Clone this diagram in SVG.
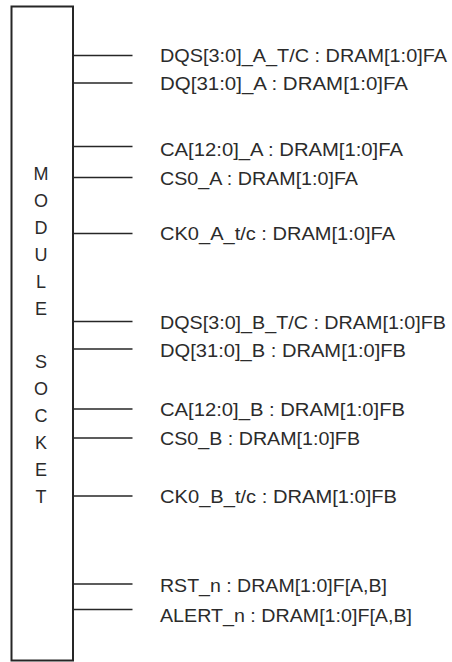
<svg xmlns="http://www.w3.org/2000/svg" width="452" height="662" viewBox="0 0 452 662">
<style>
.box{fill:#fff;stroke:#262626;stroke-width:2}
.ln{stroke:#262626;stroke-width:1.6;fill:none}
.lbl{font-family:"Liberation Sans",Arial,sans-serif;font-size:19px;fill:#2b2b2b}
.sock{font-family:"Liberation Sans",Arial,sans-serif;font-size:18px;fill:#2b2b2b;text-anchor:middle}
</style>
<rect width="452" height="662" fill="#fff"/>
<g id="socket">
<rect class="box" x="11.5" y="6.5" width="61.5" height="654"/>
<text class="sock" x="41"><tspan x="41" y="180">M</tspan><tspan x="41" y="207">O</tspan><tspan x="41" y="234">D</tspan><tspan x="41" y="261">U</tspan><tspan x="41" y="288">L</tspan><tspan x="41" y="315">E</tspan><tspan x="41" y="368">S</tspan><tspan x="41" y="395">O</tspan><tspan x="41" y="422">C</tspan><tspan x="41" y="449">K</tspan><tspan x="41" y="476">E</tspan><tspan x="41" y="503">T</tspan></text>
</g>
<g id="connectors">
<line class="ln" x1="73" y1="55.5" x2="132.5" y2="55.5"/>
<line class="ln" x1="73" y1="83" x2="132.5" y2="83"/>
<line class="ln" x1="73" y1="146.5" x2="132.5" y2="146.5"/>
<line class="ln" x1="73" y1="177.5" x2="132.5" y2="177.5"/>
<line class="ln" x1="73" y1="233.5" x2="132.5" y2="233.5"/>
<line class="ln" x1="73" y1="321.5" x2="132.5" y2="321.5"/>
<line class="ln" x1="73" y1="349" x2="132.5" y2="349"/>
<line class="ln" x1="73" y1="409" x2="132.5" y2="409"/>
<line class="ln" x1="73" y1="438" x2="132.5" y2="438"/>
<line class="ln" x1="73" y1="496" x2="132.5" y2="496"/>
<line class="ln" x1="73" y1="584" x2="132.5" y2="584"/>
<line class="ln" x1="73" y1="609.5" x2="132.5" y2="609.5"/>
</g>
<g id="labels">
<text id="dqs-a" class="lbl" x="160" y="62" textLength="287" lengthAdjust="spacingAndGlyphs">DQS[3:0]_A_T/C : DRAM[1:0]FA</text>
<text id="dq-a" class="lbl" x="160" y="90" textLength="248" lengthAdjust="spacingAndGlyphs">DQ[31:0]_A : DRAM[1:0]FA</text>
<text id="ca-a" class="lbl" x="160" y="156" textLength="243" lengthAdjust="spacingAndGlyphs">CA[12:0]_A : DRAM[1:0]FA</text>
<text id="cs0-a" class="lbl" x="160" y="185" textLength="198" lengthAdjust="spacingAndGlyphs">CS0_A : DRAM[1:0]FA</text>
<text id="ck0-a" class="lbl" x="160" y="240" textLength="235" lengthAdjust="spacingAndGlyphs">CK0_A_t/c : DRAM[1:0]FA</text>
<text id="dqs-b" class="lbl" x="160" y="329" textLength="286" lengthAdjust="spacingAndGlyphs">DQS[3:0]_B_T/C : DRAM[1:0]FB</text>
<text id="dq-b" class="lbl" x="160" y="357" textLength="246" lengthAdjust="spacingAndGlyphs">DQ[31:0]_B : DRAM[1:0]FB</text>
<text id="ca-b" class="lbl" x="160" y="416" textLength="245" lengthAdjust="spacingAndGlyphs">CA[12:0]_B : DRAM[1:0]FB</text>
<text id="cs0-b" class="lbl" x="160" y="445" textLength="200" lengthAdjust="spacingAndGlyphs">CS0_B : DRAM[1:0]FB</text>
<text id="ck0-b" class="lbl" x="160" y="503" textLength="237" lengthAdjust="spacingAndGlyphs">CK0_B_t/c : DRAM[1:0]FB</text>
<text id="rst" class="lbl" x="160" y="592" textLength="227" lengthAdjust="spacingAndGlyphs">RST_n : DRAM[1:0]F[A,B]</text>
<text id="alert" class="lbl" x="160" y="622" textLength="252" lengthAdjust="spacingAndGlyphs">ALERT_n : DRAM[1:0]F[A,B]</text>
</g>
</svg>
